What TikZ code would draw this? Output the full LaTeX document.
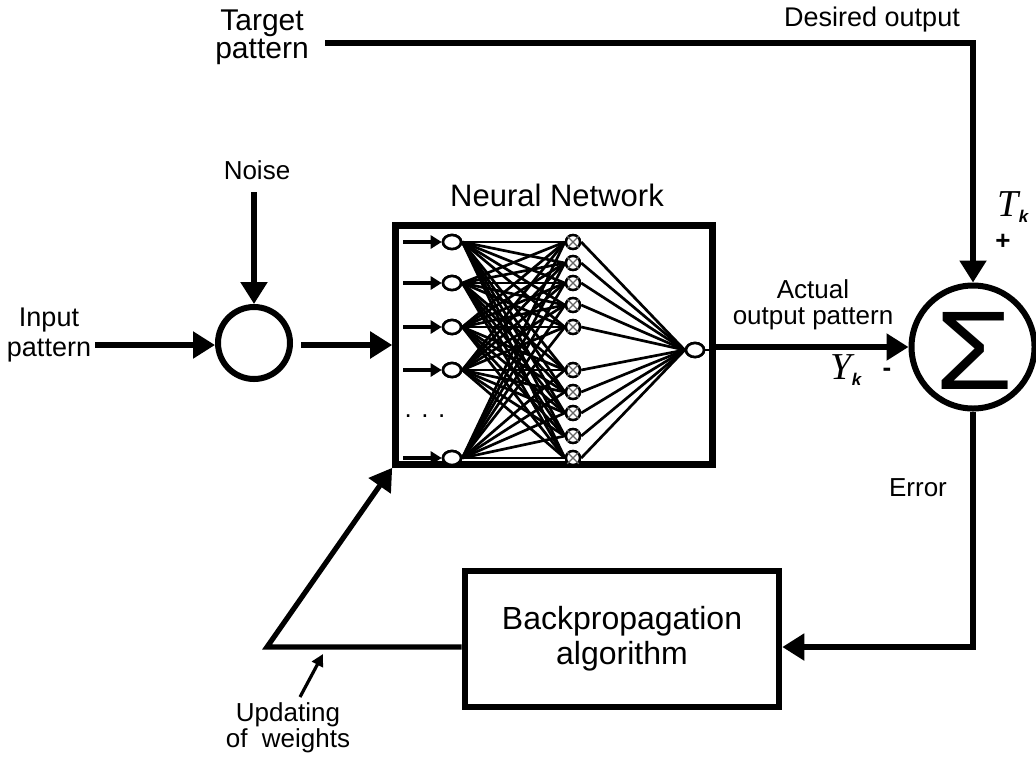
\documentclass[tikz,border=0pt]{standalone}
\usepackage{fontspec}
\usepackage{graphicx}
\setmainfont{Liberation Sans}
\newfontfamily\tnrfont{Liberation Serif}
\usetikzlibrary{arrows.meta,shapes.geometric}
\begin{document}
\begin{tikzpicture}[x=0.5pt,y=-0.5pt,
  lbl/.style={inner sep=0pt, align=center, font=\fontsize{13}{15}\selectfont},
  mainline/.style={line width=2.6pt},
  arr/.style={mainline, -{Triangle[length=11pt,width=13pt]}},
  smallarr/.style={line width=1.6pt, -{Triangle[length=6pt,width=6pt]}},
  blockbox/.style={draw, line width=3.3pt, rectangle, inner sep=0pt},
  sumcirc/.style={draw, circle, line width=3pt, inner sep=0pt},
  inneur/.style={draw, ellipse, line width=1.3pt, minimum width=9pt, minimum height=7pt, inner sep=0pt, fill=white},
  hidneur/.style={draw, circle, line width=1.2pt, minimum size=7pt, inner sep=0pt, fill=white},
  nnline/.style={line width=1.35pt},
  nnarr/.style={line width=1.6pt, -{Triangle[length=5.5pt,width=6.5pt]}},
]
\useasboundingbox (0,0) rectangle (1036,756);

% main blocks
\node[blockbox, minimum width=158.5pt, minimum height=119.5pt] (nn) at (554,345) {};
\node[blockbox, minimum width=157pt, minimum height=68pt, font=\fontsize{16}{17.5}\selectfont, align=center] (bp) at (622,639) {Backpropagation\\algorithm};
\node[sumcirc, minimum size=36pt] (sum1) at (254,343) {};
\node[sumcirc, minimum size=61.5pt] (sig) at (973,347) {};
\node[inner sep=0pt, font=\fontsize{56}{56}\selectfont] (sigglyph) at (974,351) {\scalebox{1.12}[1]{Σ}};

% labels
\node[lbl, font=\fontsize{15}{14}\selectfont] (tgtlbl) at (262,37) {Target\\pattern};
\node[lbl, font=\fontsize{13.5}{14}\selectfont] (deslbl) at (872,20) {Desired output};
\node[lbl, font=\fontsize{13}{14}\selectfont] (noiselbl) at (257,170) {Noise};
\node[lbl, font=\fontsize{13.5}{15}\selectfont] (inplbl) at (49,335) {Input\\pattern};
\node[lbl, font=\fontsize{15.5}{16}\selectfont] (nnlbl) at (557,195) {Neural Network};
\node[lbl, font=\fontsize{13}{13}\selectfont] (actlbl) at (813,305) {Actual\\output pattern};
\node[lbl, font=\fontsize{13}{15}\selectfont] (errlbl) at (918,488) {Error};
\node[lbl, font=\fontsize{13}{12}\selectfont] (updlbl) at (288,728) {Updating\\of\ \ weights};
\node[inner sep=0pt] (tklbl) at (1013,207) {{\tnrfont\itshape\fontsize{19}{19}\selectfont T}\raisebox{-0.6ex}{\fontsize{8.5}{8.5}\selectfont\bfseries\itshape k}};
\node[inner sep=0pt] (yklbl) at (846,370) {{\tnrfont\itshape\fontsize{19}{19}\selectfont Y}\raisebox{-0.6ex}{\fontsize{8.5}{8.5}\selectfont\bfseries\itshape k}};
\node[lbl, font=\fontsize{13}{13}\selectfont\bfseries] (pluslbl) at (1003,242) {+};
\node[lbl, font=\fontsize{13}{13}\selectfont\bfseries] (minuslbl) at (887,372) {-};

% free ends
\coordinate (inp) at (95,345);
\coordinate (noise) at (254,192);
\coordinate (tgt) at (325,43);
\coordinate (ec) at (973,647);
\coordinate (uc) at (267,647);
\coordinate (ua) at (300,697);
\coordinate (ub) at (323,654);

% connectors
\draw[arr] (inp) -- (sum1.west |- inp);
\draw[arr] (noise) -- (sum1.north);
\draw[arr, shorten <=4pt] (sum1.east |- inp) -- (nn.west |- inp);
\draw[arr] (tgt) -| (sig.north);
\draw[arr] (nn.east |- sig.west) -- (sig.west);
\draw[arr] (sig.south) -- (ec) -- (ec -| bp.east);
\draw[arr] (uc -| bp.west) -- (uc) -- (nn.south west);
\draw[smallarr] (ua) -- (ub);

% neural network internals
\foreach \y [count=\k] in {242,283,327,370,458} {
  \coordinate (i\k) at (452,\y);
  \coordinate (ia\k) at (403,\y);
}
\foreach \y [count=\k] in {242,263,283,305,327,370,392,413,436,458} {
  \coordinate (h\k) at (573,\y);
}
\coordinate (oc) at (695,350);
\foreach \a in {1,...,5} {
  \node[inneur] (in\a) at (i\a) {};
}
\foreach \b in {1,...,10} {
  \node[hidneur] (hn\b) at (h\b) {};
}
\node[inneur] (o) at (oc) {};
\foreach \a in {1,...,5} {
  \foreach \b in {1,...,10} {
    \draw[nnline] (in\a.east) -- (hn\b.west);
  }
  \draw[nnarr] (ia\a) -- (in\a.west);
}
\foreach \b in {1,...,10} {
  \draw[nnline] (hn\b.east) -- (o.west);
}
\draw[nnline] (o.east) -- (o.east -| nn.east);
% redraw neurons on top
\foreach \a in {1,...,5} {
  \node[inneur] at (i\a) {};
}
\foreach \b in {1,...,10} {
  \node[hidneur] (hh\b) at (h\b) {};
  \draw[line width=0.6pt, black!60] (hh\b.45) -- (hh\b.225) (hh\b.135) -- (hh\b.315);
}
\node[inneur] at (oc) {};
\node[lbl, font=\fontsize{13}{13}\selectfont] (dots) at (425,416) {. . .};
\end{tikzpicture}
\end{document}
